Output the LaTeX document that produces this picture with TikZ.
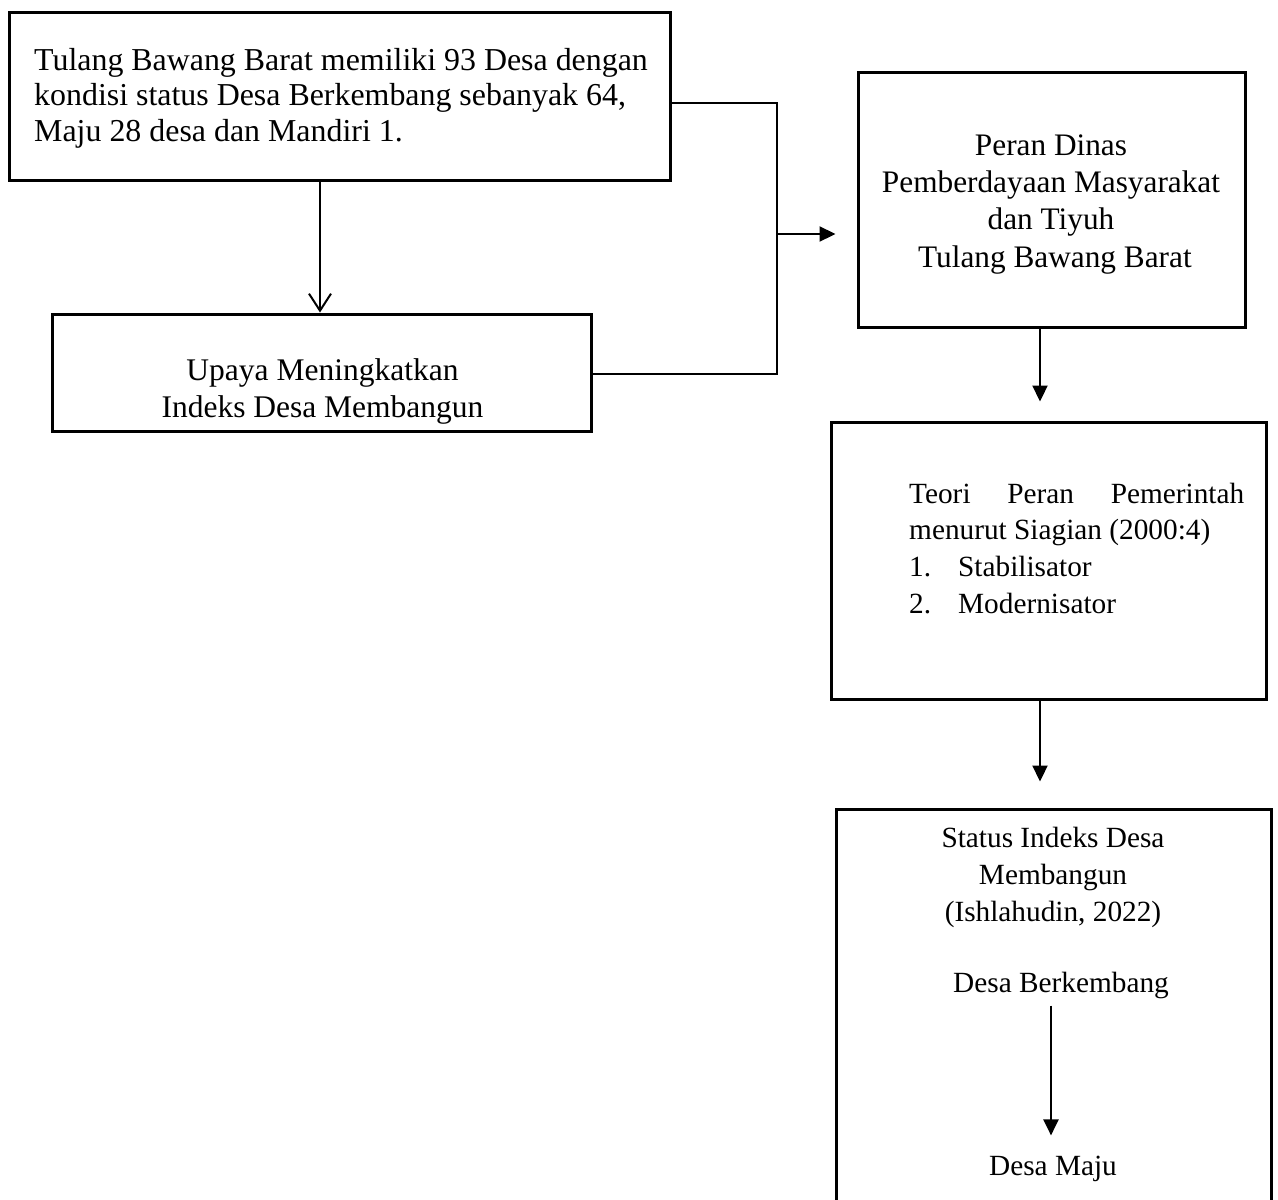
\documentclass[tikz,border=0pt]{standalone}
\usepackage{fontspec}
\setmainfont{Liberation Serif}
\usetikzlibrary{arrows.meta}
\begin{document}
\begin{tikzpicture}[x=1pt,y=-1pt,
  box/.style={draw,line width=3pt,inner sep=0pt,rectangle},
  txt/.style={font=\fontsize{29.3}{36.6}\selectfont,inner sep=0pt},
  thinline/.style={line width=1.3pt},
  arrowF/.style={line width=2.2pt,-{Triangle[length=16pt,width=15pt]}},
  arrowO/.style={line width=2pt,-{Straight Barb[length=17pt,width=22pt,line width=2pt]}}]
\path[use as bounding box] (0,0) rectangle (1278,1200);
\clip (0,0) rectangle (1278,1200);
% boxes
\node[box,minimum width=661pt,minimum height=168pt] (b1) at (339.5,96) {};
\node[box,minimum width=539pt,minimum height=117pt] (b2) at (321.5,372.5) {};
\node[box,minimum width=387pt,minimum height=255pt] (b3) at (1051.5,199.5) {};
\node[box,minimum width=435pt,minimum height=277pt] (b4) at (1048.5,560.5) {};
\node[box,minimum width=435pt,minimum height=421pt] (b5) at (1053.5,1019.5) {};
% texts (base anchor = baseline of the last line)
\node[txt,font=\fontsize{31.9}{35.5}\selectfont,anchor=base west,align=left] (t1) at (34,141)
  {Tulang Bawang Barat memiliki 93 Desa dengan\\kondisi status Desa Berkembang sebanyak 64,\\Maju 28 desa dan Mandiri 1.};
\node[txt,font=\fontsize{31.5}{37}\selectfont,anchor=base,align=center] (t2) at (322.5,417)
  {Upaya Meningkatkan\\Indeks Desa Membangun};
\node[txt,font=\fontsize{31.3}{37.3}\selectfont,anchor=base,align=center] (t3) at (1051,267)
  {Peran Dinas\\Pemberdayaan Masyarakat\\dan Tiyuh\\\ Tulang Bawang Barat};
\node[txt,anchor=base west,align=left] (t4) at (909,613)
  {\makebox[335pt][s]{Teori\hfill Peran\hfill Pemerintah}\\menurut Siagian (2000:4)\\\makebox[49pt][l]{1.}Stabilisator\\\makebox[49pt][l]{2.}Modernisator};
\node[txt,anchor=base,align=center] (t5) at (1053,921)
  {Status Indeks Desa\\Membangun\\(Ishlahudin, 2022)};
\node[txt,anchor=base] (db) at (1061,992) {Desa Berkembang};
\node[txt,anchor=base] (dm) at (1053,1175) {Desa Maju};
% connectors
\coordinate (j1) at (777,103);
\coordinate (j2) at (777,374);
\coordinate (jm) at (777,234);
\draw[thinline] (b1.east |- j1) -- (j1) -- (j2) -- (b2.east |- j2);
\draw[arrowF,shorten >=21pt] (jm) -- (b3.west |- jm);
\draw[arrowO] (b1.south -| 320,0) -- (b2.north -| 320,0);
\draw[arrowF,shorten >=19pt] (b3.south -| 1040,0) -- (b4.north -| 1040,0);
\draw[arrowF,shorten >=26pt] (b4.south -| 1040,0) -- (b5.north -| 1040,0);
\draw[arrowF,shorten <=7pt,shorten >=20pt] (db.south -| 1051,0) -- (dm.north -| 1051,0);
\end{tikzpicture}
\end{document}
